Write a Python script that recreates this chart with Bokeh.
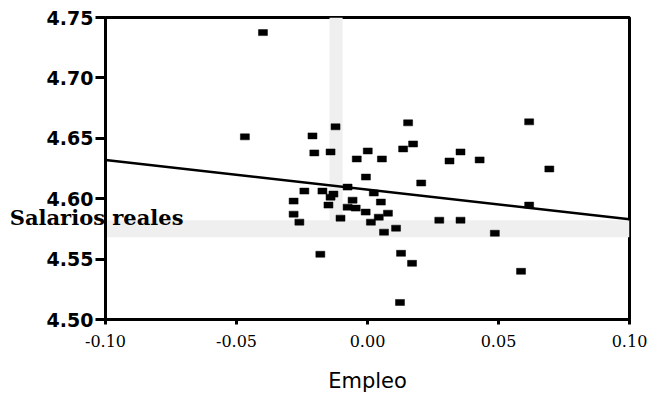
from bokeh.plotting import figure
from bokeh.models import Range1d, FixedTicker, PrintfTickFormatter, LinearAxis
from bokeh.embed import file_html
from bokeh.resources import INLINE

# Data (Empleo vs Salarios reales)
empleo = [-0.0399, -0.0468, -0.0210, -0.0122, -0.0203, -0.0141, 0.0001, -0.0041,
          0.0055, 0.0136, 0.0174, 0.0155, -0.0006, 0.0205, 0.0313, 0.0355,
          0.0428, 0.0617, 0.0694, 0.0617, 0.0486, 0.0274, 0.0355, 0.0586,
          0.0124, -0.0180, 0.0128, 0.0170, -0.0241, -0.0172, -0.0130, -0.0076,
          -0.0282, -0.0282, -0.0260, -0.0141, -0.0149, -0.0076, -0.0045, -0.0007,
          -0.0103, 0.0024, 0.0051, 0.0013, 0.0078, 0.0043, 0.0063, 0.0109, -0.0057]
salarios = [4.7375, 4.6512, 4.6520, 4.6595, 4.6379, 4.6387, 4.6395, 4.6329,
            4.6329, 4.6412, 4.6453, 4.6628, 4.6179, 4.6130, 4.6312, 4.6387,
            4.6321, 4.6636, 4.6246, 4.5947, 4.5714, 4.5822, 4.5822, 4.5399,
            4.5141, 4.5540, 4.5548, 4.5465, 4.6063, 4.6063, 4.6038, 4.6096,
            4.5980, 4.5872, 4.5806, 4.6013, 4.5947, 4.5930, 4.5922, 4.5889,
            4.5839, 4.6047, 4.5972, 4.5806, 4.5880, 4.5847, 4.5723, 4.5756, 4.5988]

fit_intercept = 4.6075
fit_slope = -0.245

x_ticks = [-0.10, -0.05, 0.00, 0.05, 0.10]
y_ticks = [4.50, 4.55, 4.60, 4.65, 4.70, 4.75]

x_label = "Empleo"
y_label = "Salarios reales"
y_label_at = 4.5847

p = figure(frame_width=524, frame_height=302, output_backend="svg",
           toolbar_location=None, x_range=Range1d(-0.10, 0.10),
           y_range=Range1d(4.50, 4.75), min_border_left=105, min_border_right=30,
           min_border_top=17, min_border_bottom=74)
p.background_fill_color = "white"
p.border_fill_color = "white"
p.grid.visible = False
p.outline_line_color = "black"
p.outline_line_width = 3

# faint watermark band / strip from the scanned page
p.quad(left=[-0.10, -0.0145], right=[0.10, -0.0095], bottom=[4.5681, 4.5822],
       top=[4.5822, 4.75], fill_color="#efefef", line_color=None)

xs = [x_ticks[0], x_ticks[-1]]
p.line(xs, [fit_intercept + fit_slope * v for v in xs], line_color="black", line_width=2.5)

p.rect(empleo, salarios, width=9, height=6, width_units="screen", height_units="screen",
       fill_color="black", line_color="black", line_width=0.5)

for ax in (p.xaxis[0], p.yaxis[0]):
    ax.axis_line_width = 3
    ax.axis_line_color = "black"
    ax.major_tick_line_width = 3
    ax.major_tick_in = 0
    ax.minor_tick_line_color = None
    ax.major_label_text_color = "black"

p.xaxis.ticker = FixedTicker(ticks=x_ticks)
p.yaxis.ticker = FixedTicker(ticks=y_ticks)
p.xaxis.formatter = PrintfTickFormatter(format="%.2f")
p.yaxis.formatter = PrintfTickFormatter(format="%.2f")

p.yaxis.major_tick_out = 10
p.yaxis.major_label_standoff = 2
p.yaxis.major_label_text_font = "DejaVu Sans"
p.yaxis.major_label_text_font_style = "bold"
p.yaxis.major_label_text_font_size = "19px"

p.xaxis.major_tick_out = 5
p.xaxis.major_label_standoff = 10
p.xaxis.major_label_text_font = "DejaVu Serif"
p.xaxis.major_label_text_font_size = "16px"
p.xaxis.axis_label = x_label
p.xaxis.axis_label_text_font = "DejaVu Sans"
p.xaxis.axis_label_text_font_style = "normal"
p.xaxis.axis_label_text_font_size = "21px"
p.xaxis.axis_label_standoff = 19
p.xaxis.axis_label_text_color = "black"

# the horizontal "Salarios reales" label sitting over the left axis
lab_axis = LinearAxis(ticker=FixedTicker(ticks=[y_label_at]),
                      major_label_overrides={y_label_at: y_label})
lab_axis.axis_line_color = None
lab_axis.major_tick_line_color = None
lab_axis.minor_tick_line_color = None
lab_axis.major_tick_out = 0
lab_axis.major_tick_in = 0
lab_axis.major_label_standoff = -140
lab_axis.major_label_text_font = "DejaVu Serif"
lab_axis.major_label_text_font_style = "bold"
lab_axis.major_label_text_font_size = "21px"
lab_axis.major_label_text_color = "black"
p.add_layout(lab_axis, "left")

open("out.html", "w").write(file_html(p, INLINE))
